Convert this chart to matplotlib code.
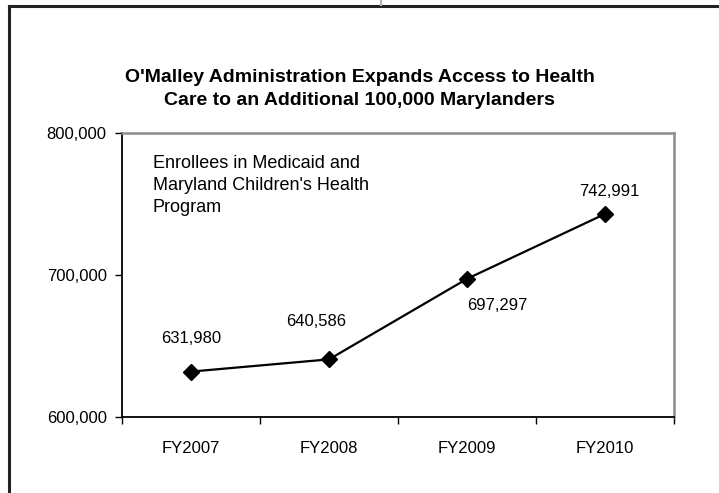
import matplotlib
matplotlib.use("Agg")
import matplotlib.pyplot as plt
from matplotlib.lines import Line2D
from matplotlib.ticker import FuncFormatter

plt.rcParams['font.family'] = ['Liberation Sans', 'DejaVu Sans']

# data
years = ['FY2007', 'FY2008', 'FY2009', 'FY2010']
enrollees = [631980, 640586, 697297, 742991]
# label offsets in pixels relative to each point
label_offsets = [(0, 33), (-13, 38), (30, -27), (4, 22)]

W, H = 719, 493
fig = plt.figure(figsize=(W / 100, H / 100), dpi=100)

# outer frame (left and top edges visible)
fig.add_artist(Line2D([9 / W, 9 / W], [0, 1 - 6 / H], color='#222222', lw=2.2))
fig.add_artist(Line2D([9 / W, 1], [1 - 6 / H, 1 - 6 / H], color='#222222', lw=2.2))
fig.add_artist(Line2D([381 / W, 381 / W], [1 - 5 / H, 1], color='#b0b0b0', lw=1.5))

# plot area
ax = fig.add_axes([122 / W, 1 - 417 / H, (674 - 122) / W, (417 - 133) / H])
x = list(range(len(years)))
ax.plot(x, enrollees, color='black', lw=1.6, marker='D', markersize=8)

for xi, v, (dx, dy) in zip(x, enrollees, label_offsets):
    ax.annotate(f'{v:,}', (xi, v), xytext=(dx, dy), textcoords='offset pixels',
                ha='center', va='center', fontsize=12)

ax.set_xlim(-0.5, 3.5)
ax.set_ylim(600000, 800000)
ax.set_yticks([600000, 700000, 800000])
ax.yaxis.set_major_formatter(FuncFormatter(lambda v, p: f'{int(v):,}'))
ax.set_xticks(x)
ax.set_xticklabels(years)
ax.set_xticks([-0.5, 0.5, 1.5, 2.5, 3.5], minor=True)
ax.tick_params(axis='x', which='major', length=0, pad=17, labelsize=12)
ax.tick_params(axis='x', which='minor', length=5, width=1, direction='out')
ax.tick_params(axis='y', length=5, width=1, pad=6, labelsize=12)

for s in ['left', 'bottom']:
    ax.spines[s].set_color('black')
    ax.spines[s].set_linewidth(1.3)
for s in ['top', 'right']:
    ax.spines[s].set_color('#8c8c8c')
    ax.spines[s].set_linewidth(1.8)

ax.text(153, H - 155, "Enrollees in Medicaid and\nMaryland Children's Health\nProgram",
        transform=None, ha='left', va='top', fontsize=13, linespacing=1.4)

fig.text(0.5, 1 - 89 / H, "O'Malley Administration Expands Access to Health\n"
         "Care to an Additional 100,000 Marylanders",
         ha='center', va='center', fontsize=14, fontweight='bold', linespacing=1.45)

fig.savefig('out.png', dpi=100)
